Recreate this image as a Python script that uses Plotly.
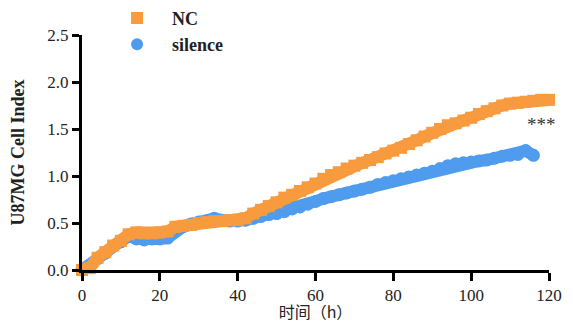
import plotly.graph_objects as go

hours = list(range(0, 121, 2))

nc_values = [0.00, 0.02, 0.13, 0.19, 0.26, 0.31, 0.38, 0.40, 0.39, 0.39,
             0.40, 0.41, 0.46, 0.47, 0.48, 0.50, 0.51, 0.52, 0.52, 0.53,
             0.53, 0.55, 0.60, 0.64, 0.68, 0.72, 0.77, 0.80, 0.84, 0.88,
             0.92, 0.97, 1.01, 1.04, 1.08, 1.11, 1.14, 1.17, 1.20, 1.24,
             1.27, 1.30, 1.34, 1.38, 1.42, 1.46, 1.50, 1.54, 1.56, 1.59,
             1.62, 1.66, 1.69, 1.72, 1.75, 1.77, 1.78, 1.79, 1.80, 1.81,
             1.81]

silence_hours = list(range(0, 117, 2))
silence_values = [0.00, 0.05, 0.12, 0.18, 0.25, 0.30, 0.36, 0.33, 0.32, 0.33,
                  0.33, 0.34, 0.42, 0.46, 0.49, 0.51, 0.52, 0.55, 0.53, 0.52,
                  0.52, 0.53, 0.55, 0.57, 0.59, 0.60, 0.62, 0.65, 0.67, 0.70,
                  0.73, 0.76, 0.78, 0.80, 0.82, 0.84, 0.86, 0.88, 0.91, 0.93,
                  0.95, 0.97, 0.99, 1.01, 1.03, 1.05, 1.08, 1.11, 1.13, 1.14,
                  1.15, 1.16, 1.17, 1.19, 1.21, 1.22, 1.23, 1.27, 1.22]

x_ticks = [0, 20, 40, 60, 80, 100, 120]
y_ticks = [0.0, 0.5, 1.0, 1.5, 2.0, 2.5]

orange = "#F89A3E"
blue = "#4F9CEE"
serif = "Liberation Serif"

fig = go.Figure()
# data bands
fig.add_trace(go.Scatter(
    x=silence_hours, y=silence_values, name="silence", mode="lines+markers",
    line=dict(color=blue, width=12),
    marker=dict(symbol="circle", size=13, color=blue, line=dict(width=0)),
    cliponaxis=False, showlegend=False,
))
fig.add_trace(go.Scatter(
    x=hours, y=nc_values, name="NC", mode="lines+markers",
    line=dict(color=orange, width=12),
    marker=dict(symbol="square", size=12, color=orange, line=dict(width=0)),
    cliponaxis=False, showlegend=False,
))
# legend entries
fig.add_trace(go.Scatter(
    x=[None], y=[None], name="NC", mode="markers",
    marker=dict(symbol="square", size=12, color=orange), legendrank=1,
))
fig.add_trace(go.Scatter(
    x=[None], y=[None], name="silence", mode="markers",
    marker=dict(symbol="circle", size=12, color=blue), legendrank=2,
))

fig.add_annotation(x=118, y=1.55, text="***", showarrow=False,
                   font=dict(family=serif, size=19, color="#333333"))

# page has an 8px body margin, so the figure is sized 8px smaller
fig.update_layout(
    width=565, height=315,
    margin=dict(l=74, r=24, t=27, b=53, autoexpand=False),
    paper_bgcolor="white", plot_bgcolor="white",
    showlegend=True,
    legend=dict(x=0.043, y=1.15, xanchor="left", yanchor="top",
                itemwidth=60, tracegroupgap=0, bgcolor="rgba(0,0,0,0)",
                font=dict(family=serif, size=18, color="#222222", weight="bold")),
    font=dict(family=serif, color="#222222"),
)
fig.update_xaxes(
    range=[0, 120], tickvals=x_ticks, ticktext=[str(v) for v in x_ticks],
    showline=True, linecolor="black", linewidth=3, mirror=False,
    ticks="outside", ticklen=8, tickwidth=3, tickcolor="black",
    showgrid=False, zeroline=False, automargin=False,
    tickfont=dict(family=serif, size=17, color="#222222"),
    title=dict(text="时间（h）", standoff=0,
               font=dict(family="Noto Sans CJK SC", size=16, color="#222222")),
)
fig.update_yaxes(
    range=[0, 2.5], tickvals=y_ticks, ticktext=[f"{v:.1f}" for v in y_ticks],
    showline=True, linecolor="black", linewidth=3,
    ticks="outside", ticklen=7, tickwidth=3, tickcolor="black",
    showgrid=False, zeroline=False, automargin=False,
    tickfont=dict(family=serif, size=17, color="#222222"),
    title=dict(text="U87MG Cell Index", standoff=25,
               font=dict(family=serif, size=18, color="#222222", weight="bold")),
)

fig.write_html("out.html")
